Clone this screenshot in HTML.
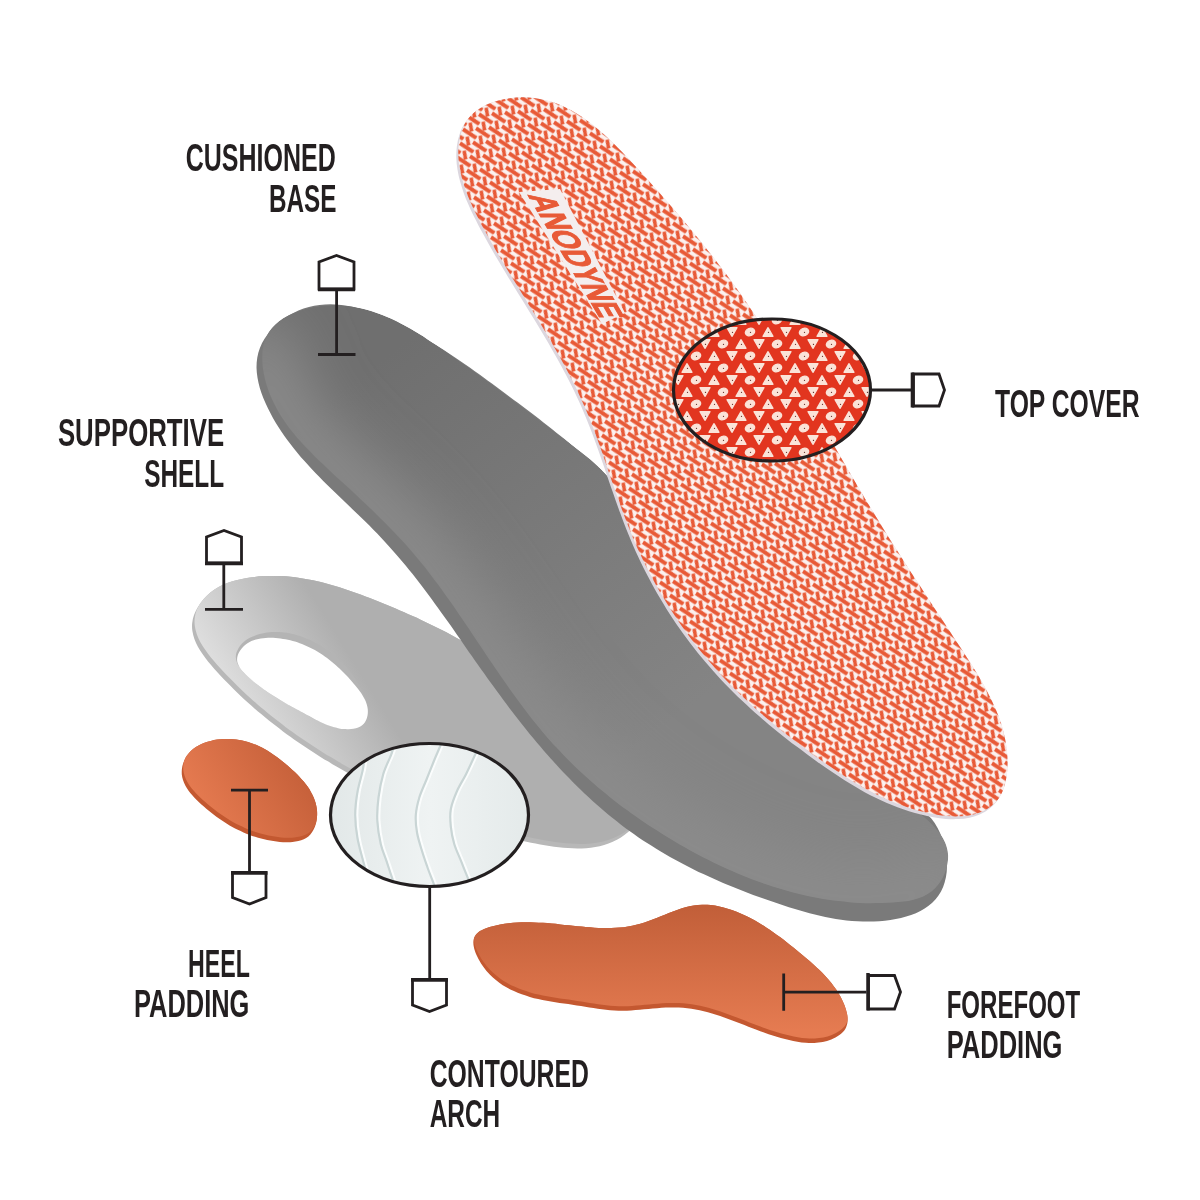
<!DOCTYPE html>
<html><head><meta charset="utf-8">
<style>
html,body{margin:0;padding:0;background:#fff;width:1200px;height:1200px;overflow:hidden}
svg{display:block;will-change:transform}
.lb{font-family:"Liberation Sans",sans-serif;font-weight:bold;font-size:39px;fill:#231f20}
</style></head>
<body>
<svg width="1200" height="1200" viewBox="0 0 1200 1200">
<defs>
  <path id="pTop" d="M516.2,97.6 C520.3,97.3 524.3,97.3 528.3,97.5 C532.2,97.7 536.0,98.2 539.8,98.9 C543.5,99.6 547.2,100.5 550.8,101.6 C554.4,102.7 557.9,104.1 561.4,105.6 C564.9,107.1 568.3,108.8 571.6,110.6 C574.9,112.5 578.2,114.5 581.4,116.6 C584.7,118.8 587.8,121.1 590.9,123.5 C594.1,125.9 597.1,128.4 600.1,131.0 C603.2,133.6 606.1,136.4 609.1,139.1 C612.0,141.9 614.9,144.8 617.8,147.7 C620.7,150.6 623.5,153.5 626.3,156.5 C629.1,159.5 631.9,162.5 634.7,165.5 C637.4,168.5 640.2,171.5 642.9,174.6 C645.6,177.6 648.3,180.6 651.0,183.6 C653.7,186.6 656.4,189.6 659.1,192.6 C661.7,195.6 664.4,198.6 667.0,201.6 C669.6,204.6 672.2,207.6 674.8,210.6 C677.4,213.6 680.0,216.6 682.5,219.6 C685.1,222.6 687.6,225.6 690.1,228.7 C692.7,231.7 695.2,234.7 697.6,237.7 C700.1,240.8 702.6,243.8 705.0,246.9 C707.5,249.9 709.9,253.0 712.3,256.1 C714.7,259.2 717.1,262.3 719.5,265.4 C721.9,268.5 724.2,271.6 726.6,274.8 C728.9,277.9 731.2,281.1 733.5,284.3 C735.8,287.4 738.1,290.6 740.4,293.8 C742.6,297.1 744.9,300.3 747.1,303.5 C749.3,306.8 751.5,310.1 753.7,313.3 C755.9,316.6 758.1,319.9 760.3,323.2 C762.4,326.5 764.6,329.9 766.7,333.2 C768.9,336.5 771.0,339.9 773.1,343.2 C775.2,346.6 777.3,350.0 779.4,353.3 C781.5,356.7 783.6,360.1 785.7,363.5 C787.8,366.9 789.8,370.3 791.9,373.7 C793.9,377.1 796.0,380.5 798.0,384.0 C800.1,387.4 802.1,390.8 804.1,394.3 C806.2,397.7 808.2,401.1 810.2,404.6 C812.2,408.0 814.2,411.5 816.2,414.9 C818.2,418.4 820.2,421.8 822.2,425.3 C824.2,428.7 826.2,432.2 828.2,435.6 C830.2,439.1 832.2,442.5 834.2,446.0 C836.2,449.4 838.2,452.8 840.2,456.3 C842.2,459.7 844.2,463.2 846.2,466.6 C848.2,470.0 850.2,473.5 852.2,476.9 C854.2,480.3 856.2,483.7 858.3,487.2 C860.3,490.6 862.3,494.0 864.3,497.4 C866.3,500.8 868.4,504.2 870.4,507.5 C872.4,510.9 874.5,514.3 876.5,517.6 C878.6,521.0 880.6,524.3 882.7,527.7 C884.8,531.0 886.8,534.3 888.9,537.7 C891.0,541.0 893.1,544.3 895.2,547.6 C897.3,550.9 899.4,554.2 901.5,557.5 C903.6,560.8 905.7,564.1 907.9,567.4 C910.0,570.7 912.1,574.0 914.3,577.3 C916.4,580.5 918.5,583.8 920.7,587.1 C922.8,590.4 925.0,593.7 927.2,597.0 C929.3,600.3 931.5,603.6 933.7,606.9 C935.9,610.2 938.0,613.5 940.2,616.8 C942.4,620.2 944.6,623.5 946.8,626.8 C949.0,630.2 951.2,633.5 953.4,636.9 C955.6,640.2 957.9,643.6 960.1,647.0 C962.3,650.4 964.5,653.8 966.7,657.2 C968.9,660.6 971.1,664.0 973.3,667.5 C975.4,670.9 977.6,674.4 979.6,677.9 C981.7,681.4 983.7,684.9 985.6,688.4 C987.5,692.0 989.4,695.6 991.1,699.2 C992.9,702.8 994.5,706.4 996.0,710.0 C997.6,713.7 999.0,717.4 1000.3,721.1 C1001.5,724.8 1002.7,728.6 1003.6,732.4 C1004.6,736.2 1005.4,740.0 1006.0,743.9 C1006.6,747.8 1007.1,751.7 1007.3,755.7 C1007.6,759.6 1007.6,763.7 1007.4,767.7 C1007.2,771.6 1006.8,775.7 1006.0,779.5 C1005.3,783.4 1004.2,787.2 1002.8,790.7 C1001.4,794.2 999.6,797.6 997.4,800.5 C995.2,803.5 992.5,806.2 989.7,808.5 C986.8,810.8 983.6,812.7 980.2,814.2 C976.9,815.7 973.2,816.8 969.5,817.7 C965.8,818.5 961.9,818.9 957.9,819.1 C954.0,819.3 949.9,819.2 945.8,818.9 C941.7,818.6 937.5,818.0 933.4,817.3 C929.2,816.6 925.0,815.6 921.0,814.6 C916.9,813.6 912.9,812.5 909.0,811.3 C905.1,810.0 901.2,808.7 897.5,807.3 C893.7,805.9 890.0,804.4 886.3,802.8 C882.7,801.2 879.1,799.6 875.6,797.8 C872.1,796.1 868.6,794.3 865.1,792.4 C861.7,790.5 858.3,788.6 855.0,786.6 C851.6,784.6 848.3,782.6 845.0,780.5 C841.7,778.4 838.4,776.3 835.2,774.1 C831.9,771.9 828.7,769.7 825.5,767.5 C822.3,765.3 819.0,763.0 815.8,760.7 C812.6,758.4 809.4,756.1 806.3,753.7 C803.1,751.4 799.9,749.0 796.7,746.6 C793.6,744.3 790.4,741.8 787.3,739.4 C784.1,736.9 781.0,734.5 777.9,732.0 C774.8,729.5 771.8,726.9 768.7,724.4 C765.6,721.8 762.6,719.2 759.6,716.6 C756.6,714.0 753.6,711.4 750.7,708.7 C747.7,706.0 744.8,703.3 741.9,700.6 C739.0,697.8 736.1,695.0 733.3,692.2 C730.5,689.4 727.7,686.6 724.9,683.7 C722.2,680.9 719.5,678.0 716.8,675.0 C714.1,672.1 711.5,669.1 708.9,666.1 C706.3,663.1 703.7,660.1 701.2,657.0 C698.7,654.0 696.2,650.9 693.8,647.8 C691.3,644.6 688.9,641.5 686.6,638.3 C684.2,635.1 681.9,631.9 679.7,628.7 C677.4,625.4 675.2,622.2 673.0,618.9 C670.8,615.6 668.6,612.3 666.5,608.9 C664.4,605.6 662.4,602.2 660.4,598.8 C658.3,595.4 656.4,592.0 654.4,588.5 C652.5,585.1 650.6,581.6 648.8,578.1 C646.9,574.6 645.1,571.1 643.3,567.5 C641.6,564.0 639.9,560.4 638.2,556.8 C636.5,553.2 634.9,549.6 633.3,546.0 C631.7,542.3 630.2,538.7 628.7,535.0 C627.1,531.3 625.7,527.7 624.3,523.9 C622.8,520.2 621.4,516.5 620.1,512.8 C618.7,509.1 617.4,505.3 616.0,501.6 C614.7,497.8 613.4,494.0 612.1,490.3 C610.8,486.5 609.5,482.8 608.2,479.0 C606.9,475.2 605.7,471.5 604.4,467.7 C603.1,463.9 601.8,460.2 600.5,456.4 C599.2,452.7 597.8,448.9 596.5,445.2 C595.1,441.4 593.8,437.7 592.4,434.0 C591.0,430.3 589.6,426.6 588.1,422.9 C586.6,419.2 585.2,415.6 583.6,411.9 C582.1,408.3 580.5,404.7 578.8,401.1 C577.2,397.5 575.5,393.9 573.8,390.3 C572.1,386.8 570.3,383.2 568.5,379.7 C566.7,376.2 564.9,372.7 563.0,369.2 C561.1,365.7 559.2,362.3 557.3,358.8 C555.4,355.4 553.4,351.9 551.4,348.5 C549.5,345.0 547.5,341.6 545.5,338.2 C543.4,334.8 541.4,331.4 539.4,328.0 C537.3,324.6 535.2,321.2 533.2,317.8 C531.1,314.4 529.0,311.0 527.0,307.7 C524.9,304.3 522.8,300.9 520.7,297.5 C518.6,294.1 516.5,290.8 514.5,287.4 C512.4,284.0 510.3,280.6 508.2,277.2 C506.2,273.8 504.1,270.4 502.1,267.0 C500.0,263.6 498.0,260.2 496.0,256.8 C494.0,253.4 492.0,249.9 490.1,246.5 C488.1,243.1 486.2,239.6 484.3,236.1 C482.4,232.7 480.5,229.2 478.6,225.7 C476.8,222.2 475.0,218.7 473.2,215.1 C471.5,211.6 469.8,208.0 468.3,204.3 C466.7,200.7 465.2,197.0 463.8,193.2 C462.5,189.4 461.2,185.5 460.1,181.6 C459.1,177.7 458.1,173.7 457.5,169.8 C456.8,165.8 456.4,161.7 456.3,157.8 C456.2,153.8 456.4,149.7 456.9,145.9 C457.4,142.0 458.3,138.1 459.5,134.5 C460.7,130.9 462.3,127.3 464.2,124.1 C466.2,120.9 468.5,117.8 471.2,115.2 C473.9,112.5 477.1,110.1 480.5,108.0 C483.9,105.9 487.7,104.2 491.6,102.8 C495.5,101.3 499.7,100.2 503.8,99.3 C507.9,98.5 512.2,97.9 516.2,97.6 Z"/>
  <path id="pBase" d="M330.4,304.3 C334.0,304.3 337.5,304.5 341.1,304.9 C344.6,305.2 348.1,305.8 351.5,306.5 C355.0,307.2 358.4,308.0 361.9,309.0 C365.3,310.0 368.7,311.1 372.0,312.3 C375.4,313.5 378.7,314.9 382.0,316.3 C385.3,317.7 388.6,319.2 391.9,320.7 C395.1,322.3 398.3,323.9 401.5,325.5 C404.7,327.2 407.9,328.9 411.1,330.6 C414.2,332.3 417.4,334.1 420.5,335.9 C423.6,337.7 426.7,339.5 429.7,341.3 C432.8,343.2 435.8,345.1 438.9,347.0 C441.9,348.9 444.9,350.8 447.9,352.8 C450.9,354.7 453.9,356.7 456.9,358.7 C459.8,360.7 462.8,362.8 465.7,364.8 C468.7,366.8 471.6,368.9 474.5,371.0 C477.4,373.0 480.3,375.1 483.3,377.2 C486.2,379.3 489.0,381.4 491.9,383.6 C494.8,385.7 497.7,387.8 500.6,390.0 C503.5,392.1 506.4,394.2 509.2,396.4 C512.1,398.5 515.0,400.7 517.8,402.8 C520.7,405.0 523.6,407.1 526.4,409.3 C529.3,411.5 532.2,413.6 535.0,415.8 C537.8,418.0 540.7,420.2 543.5,422.4 C546.3,424.6 549.1,426.8 551.9,429.0 C554.7,431.3 557.5,433.5 560.3,435.8 C563.1,438.0 565.8,440.3 568.6,442.6 C571.3,444.9 574.0,447.2 576.7,449.5 C579.4,451.9 582.1,454.2 584.8,456.6 C587.4,459.0 590.0,461.4 592.7,463.8 C595.3,466.2 597.9,468.7 600.4,471.1 C603.0,473.6 605.5,476.1 608.0,478.7 C610.5,481.2 613.0,483.8 615.4,486.3 C617.9,488.9 620.3,491.5 622.7,494.2 C625.1,496.8 627.4,499.5 629.8,502.2 C632.2,504.9 634.5,507.6 636.8,510.3 C639.1,513.0 641.4,515.8 643.7,518.5 C645.9,521.3 648.2,524.1 650.4,526.9 C652.7,529.7 654.9,532.5 657.1,535.3 C659.3,538.1 661.5,541.0 663.7,543.8 C665.9,546.7 668.1,549.5 670.2,552.4 C672.4,555.3 674.5,558.2 676.7,561.0 C678.8,563.9 681.0,566.8 683.1,569.7 C685.3,572.6 687.4,575.5 689.5,578.4 C691.7,581.3 693.8,584.3 695.9,587.2 C698.0,590.1 700.2,593.0 702.3,595.9 C704.4,598.8 706.6,601.7 708.7,604.6 C710.8,607.6 713.0,610.5 715.1,613.4 C717.3,616.3 719.4,619.1 721.6,622.0 C723.7,624.9 725.9,627.8 728.1,630.7 C730.2,633.5 732.4,636.4 734.6,639.2 C736.8,642.1 739.0,644.9 741.3,647.7 C743.5,650.6 745.7,653.4 748.0,656.2 C750.3,659.0 752.5,661.7 754.8,664.5 C757.1,667.3 759.4,670.0 761.8,672.7 C764.1,675.4 766.4,678.1 768.8,680.8 C771.2,683.5 773.6,686.1 776.0,688.8 C778.4,691.4 780.9,694.0 783.4,696.6 C785.8,699.2 788.4,701.7 790.9,704.2 C793.4,706.8 796.0,709.3 798.6,711.7 C801.2,714.2 803.8,716.6 806.5,719.0 C809.1,721.4 811.8,723.8 814.5,726.2 C817.2,728.5 819.9,730.8 822.7,733.2 C825.4,735.5 828.2,737.7 831.0,740.0 C833.8,742.3 836.6,744.5 839.4,746.7 C842.2,749.0 845.1,751.2 847.9,753.4 C850.7,755.6 853.6,757.7 856.4,759.9 C859.3,762.1 862.2,764.2 865.0,766.4 C867.9,768.5 870.8,770.7 873.6,772.8 C876.5,774.9 879.3,777.1 882.2,779.2 C885.1,781.3 887.9,783.4 890.8,785.6 C893.6,787.7 896.4,789.8 899.3,791.9 C902.1,794.0 904.9,796.2 907.7,798.3 C910.5,800.4 913.3,802.5 916.0,804.7 C918.8,806.9 921.6,809.0 924.1,811.3 C926.7,813.7 929.2,816.1 931.5,818.8 C933.7,821.6 935.8,824.6 937.6,827.9 C939.3,831.1 940.9,834.6 942.2,838.2 C943.5,841.8 944.5,845.6 945.3,849.3 C946.1,853.1 946.6,856.9 946.8,860.7 C947.0,864.5 947.0,868.3 946.7,871.9 C946.3,875.5 945.7,879.0 944.7,882.3 C943.8,885.6 942.6,888.7 941.0,891.5 C939.5,894.4 937.6,897.0 935.6,899.3 C933.5,901.7 931.1,903.9 928.6,905.8 C926.1,907.7 923.3,909.5 920.4,911.0 C917.5,912.6 914.3,913.9 911.1,915.1 C907.9,916.2 904.5,917.2 901.0,918.1 C897.6,918.9 894.0,919.6 890.4,920.1 C886.8,920.6 883.1,921.0 879.4,921.3 C875.7,921.5 872.0,921.6 868.3,921.6 C864.7,921.6 861.0,921.5 857.4,921.3 C853.7,921.1 850.1,920.8 846.5,920.4 C842.9,920.0 839.4,919.5 835.8,918.9 C832.3,918.3 828.8,917.7 825.3,916.9 C821.7,916.2 818.3,915.4 814.8,914.5 C811.3,913.7 807.8,912.8 804.4,911.8 C800.9,910.8 797.5,909.8 794.1,908.8 C790.6,907.7 787.2,906.6 783.8,905.5 C780.4,904.4 777.0,903.3 773.6,902.1 C770.1,901.0 766.7,899.8 763.4,898.6 C760.0,897.4 756.6,896.1 753.2,894.9 C749.8,893.6 746.4,892.4 743.1,891.1 C739.7,889.7 736.4,888.4 733.1,887.1 C729.7,885.7 726.4,884.3 723.1,882.9 C719.8,881.5 716.5,880.1 713.2,878.6 C709.9,877.1 706.7,875.6 703.4,874.1 C700.2,872.6 696.9,871.0 693.7,869.4 C690.5,867.8 687.3,866.2 684.1,864.6 C681.0,862.9 677.8,861.2 674.7,859.5 C671.6,857.8 668.4,856.0 665.4,854.2 C662.3,852.5 659.2,850.6 656.2,848.8 C653.1,846.9 650.1,845.0 647.1,843.1 C644.1,841.2 641.2,839.2 638.2,837.2 C635.3,835.2 632.4,833.1 629.5,831.1 C626.7,829.0 623.8,826.8 621.0,824.7 C618.2,822.5 615.4,820.3 612.6,818.1 C609.8,815.9 607.1,813.6 604.4,811.3 C601.7,809.0 599.0,806.7 596.3,804.3 C593.7,802.0 591.0,799.6 588.4,797.1 C585.8,794.7 583.2,792.3 580.7,789.8 C578.1,787.3 575.5,784.8 573.0,782.3 C570.5,779.7 568.0,777.2 565.5,774.6 C563.1,772.0 560.6,769.4 558.2,766.7 C555.7,764.1 553.3,761.5 550.9,758.8 C548.6,756.1 546.2,753.4 543.8,750.7 C541.5,748.0 539.2,745.2 536.8,742.5 C534.5,739.7 532.2,736.9 529.9,734.2 C527.7,731.4 525.4,728.6 523.2,725.7 C520.9,722.9 518.7,720.1 516.5,717.2 C514.3,714.4 512.1,711.5 509.9,708.7 C507.7,705.8 505.5,702.9 503.4,700.0 C501.2,697.1 499.1,694.2 497.0,691.3 C494.8,688.4 492.7,685.5 490.6,682.6 C488.5,679.7 486.4,676.8 484.4,673.8 C482.3,670.9 480.2,668.0 478.1,665.0 C476.1,662.1 474.0,659.2 472.0,656.2 C469.9,653.3 467.9,650.3 465.8,647.4 C463.8,644.5 461.7,641.5 459.7,638.6 C457.7,635.7 455.6,632.7 453.6,629.8 C451.5,626.9 449.5,624.0 447.4,621.1 C445.3,618.2 443.3,615.3 441.2,612.4 C439.1,609.5 437.0,606.6 434.9,603.7 C432.8,600.8 430.7,597.9 428.6,595.1 C426.5,592.2 424.3,589.4 422.2,586.6 C420.0,583.7 417.9,580.9 415.7,578.1 C413.5,575.3 411.3,572.5 409.0,569.8 C406.8,567.0 404.5,564.2 402.2,561.5 C400.0,558.8 397.6,556.1 395.3,553.4 C393.0,550.7 390.6,548.0 388.2,545.4 C385.8,542.7 383.4,540.1 380.9,537.5 C378.5,534.9 376.0,532.3 373.4,529.8 C370.9,527.2 368.4,524.7 365.8,522.1 C363.2,519.6 360.6,517.1 358.0,514.6 C355.4,512.1 352.8,509.6 350.2,507.1 C347.6,504.6 345.0,502.1 342.4,499.6 C339.8,497.1 337.2,494.6 334.6,492.1 C332.0,489.6 329.4,487.0 326.8,484.5 C324.3,482.0 321.7,479.4 319.2,476.8 C316.7,474.3 314.2,471.7 311.7,469.0 C309.3,466.4 306.9,463.8 304.5,461.1 C302.1,458.4 299.8,455.7 297.5,452.9 C295.2,450.2 292.9,447.4 290.8,444.6 C288.6,441.7 286.4,438.8 284.4,435.9 C282.3,433.0 280.3,430.0 278.4,427.0 C276.5,423.9 274.6,420.9 272.8,417.7 C271.1,414.6 269.3,411.3 267.8,408.1 C266.2,404.8 264.7,401.5 263.3,398.1 C262.0,394.8 260.8,391.4 259.8,388.0 C258.9,384.6 258.0,381.2 257.5,377.8 C256.9,374.4 256.6,371.0 256.5,367.6 C256.5,364.3 256.7,360.9 257.3,357.6 C257.8,354.3 258.7,351.1 259.9,347.9 C261.2,344.7 262.8,341.6 264.7,338.6 C266.5,335.6 268.8,332.6 271.2,329.9 C273.7,327.2 276.4,324.5 279.3,322.1 C282.2,319.8 285.3,317.5 288.5,315.6 C291.7,313.7 295.0,312.0 298.4,310.5 C301.8,309.1 305.4,307.9 308.9,307.0 C312.4,306.1 316.0,305.5 319.6,305.0 C323.2,304.6 326.8,304.4 330.4,304.3 Z"/>
  <path id="pBaseTop" d="M330.2,305.2 C333.8,305.0 337.5,305.1 341.0,305.3 C344.6,305.5 348.1,305.9 351.6,306.4 C355.1,306.9 358.5,307.6 361.9,308.4 C365.3,309.2 368.7,310.1 372.0,311.2 C375.3,312.2 378.6,313.4 381.8,314.7 C385.1,316.0 388.3,317.4 391.5,318.8 C394.7,320.3 397.8,321.9 400.9,323.5 C404.1,325.1 407.2,326.9 410.2,328.6 C413.3,330.4 416.3,332.2 419.4,334.1 C422.4,336.0 425.4,337.9 428.4,339.9 C431.4,341.8 434.3,343.8 437.3,345.8 C440.2,347.8 443.2,349.8 446.1,351.8 C449.0,353.8 451.9,355.8 454.8,357.9 C457.7,359.9 460.6,361.9 463.5,364.0 C466.4,366.0 469.2,368.1 472.1,370.1 C475.0,372.2 477.8,374.3 480.6,376.3 C483.5,378.4 486.3,380.5 489.1,382.6 C492.0,384.6 494.8,386.7 497.6,388.8 C500.4,390.9 503.2,393.0 506.0,395.1 C508.8,397.2 511.6,399.3 514.4,401.4 C517.2,403.5 520.0,405.6 522.8,407.7 C525.6,409.9 528.4,412.0 531.2,414.1 C534.0,416.2 536.8,418.3 539.6,420.4 C542.4,422.6 545.2,424.7 548.0,426.8 C550.8,428.9 553.6,431.0 556.4,433.2 C559.2,435.3 562.1,437.4 564.9,439.5 C567.7,441.6 570.5,443.8 573.3,445.9 C576.1,448.1 578.9,450.2 581.7,452.4 C584.4,454.6 587.2,456.8 589.9,459.1 C592.5,461.4 595.2,463.7 597.7,466.1 C600.3,468.6 602.8,471.0 605.2,473.6 C607.7,476.2 610.0,478.8 612.3,481.5 C614.7,484.1 616.9,486.9 619.1,489.7 C621.4,492.4 623.5,495.3 625.7,498.1 C627.8,501.0 629.9,503.9 632.0,506.8 C634.1,509.7 636.2,512.6 638.3,515.5 C640.3,518.5 642.4,521.4 644.4,524.3 C646.5,527.3 648.6,530.2 650.6,533.1 C652.7,536.0 654.8,538.9 656.9,541.8 C658.9,544.7 661.0,547.5 663.1,550.4 C665.3,553.2 667.4,556.1 669.5,558.9 C671.6,561.7 673.8,564.5 675.9,567.3 C678.0,570.1 680.2,572.9 682.4,575.7 C684.5,578.5 686.7,581.2 688.9,584.0 C691.1,586.7 693.3,589.4 695.5,592.2 C697.7,594.9 699.9,597.6 702.1,600.3 C704.3,603.0 706.6,605.7 708.8,608.3 C711.1,611.0 713.3,613.7 715.6,616.3 C717.8,619.0 720.1,621.6 722.4,624.2 C724.7,626.9 727.0,629.5 729.3,632.1 C731.6,634.7 733.9,637.3 736.2,639.9 C738.5,642.5 740.9,645.0 743.2,647.6 C745.5,650.2 747.9,652.7 750.3,655.3 C752.6,657.8 755.0,660.4 757.4,662.9 C759.7,665.4 762.1,667.9 764.5,670.4 C766.9,673.0 769.4,675.5 771.8,678.0 C774.2,680.5 776.6,682.9 779.1,685.4 C781.5,687.9 784.0,690.4 786.4,692.8 C788.9,695.3 791.3,697.7 793.8,700.2 C796.3,702.6 798.8,705.1 801.3,707.5 C803.8,710.0 806.3,712.4 808.8,714.8 C811.4,717.2 813.9,719.7 816.4,722.1 C819.0,724.5 821.5,726.9 824.1,729.3 C826.6,731.7 829.2,734.1 831.8,736.5 C834.4,738.8 837.0,741.2 839.6,743.6 C842.2,746.0 844.8,748.4 847.4,750.7 C850.0,753.1 852.7,755.5 855.3,757.8 C858.0,760.2 860.6,762.5 863.3,764.9 C865.9,767.2 868.6,769.6 871.3,771.9 C874.0,774.3 876.7,776.6 879.4,779.0 C882.1,781.3 884.8,783.6 887.5,786.0 C890.2,788.3 893.0,790.6 895.7,793.0 C898.5,795.3 901.2,797.6 904.0,799.9 C906.7,802.3 909.5,804.6 912.3,806.9 C915.1,809.2 917.9,811.5 920.6,813.9 C923.4,816.2 926.1,818.6 928.6,821.0 C931.2,823.4 933.7,825.9 935.8,828.4 C938.0,830.9 940.1,833.5 941.8,836.2 C943.5,839.0 945.0,841.7 946.0,844.7 C947.0,847.6 947.8,850.7 948.0,853.9 C948.3,857.1 948.1,860.6 947.4,864.0 C946.8,867.4 945.7,871.0 944.3,874.3 C942.9,877.6 941.0,881.0 938.9,883.8 C936.8,886.6 934.4,889.1 931.8,891.2 C929.1,893.3 926.2,895.0 923.2,896.4 C920.1,897.8 916.8,898.8 913.5,899.7 C910.1,900.6 906.6,901.2 903.1,901.6 C899.6,902.1 895.9,902.4 892.3,902.6 C888.7,902.9 885.1,903.0 881.5,903.1 C878.0,903.2 874.4,903.2 870.8,903.2 C867.2,903.1 863.7,903.0 860.1,902.9 C856.6,902.7 853.0,902.5 849.5,902.2 C846.0,901.9 842.4,901.5 838.9,901.1 C835.4,900.7 831.9,900.2 828.4,899.7 C824.9,899.2 821.4,898.6 818.0,898.0 C814.5,897.3 811.0,896.6 807.6,895.9 C804.1,895.1 800.7,894.3 797.3,893.5 C793.9,892.7 790.5,891.8 787.1,890.8 C783.7,889.9 780.3,888.9 776.9,887.8 C773.5,886.8 770.2,885.7 766.8,884.6 C763.5,883.4 760.1,882.3 756.8,881.0 C753.5,879.8 750.2,878.6 746.9,877.3 C743.6,876.0 740.3,874.6 737.1,873.2 C733.8,871.8 730.6,870.4 727.4,869.0 C724.1,867.5 720.9,866.0 717.7,864.5 C714.5,863.0 711.3,861.4 708.2,859.8 C705.0,858.2 701.8,856.6 698.7,855.0 C695.6,853.3 692.5,851.6 689.4,849.9 C686.3,848.2 683.2,846.4 680.1,844.7 C677.1,842.9 674.0,841.1 671.0,839.3 C668.0,837.5 664.9,835.6 662.0,833.8 C659.0,831.9 656.0,830.0 653.0,828.1 C650.1,826.2 647.1,824.2 644.2,822.3 C641.3,820.3 638.4,818.3 635.6,816.3 C632.7,814.3 629.8,812.2 627.0,810.1 C624.2,808.1 621.4,806.0 618.6,803.9 C615.8,801.7 613.0,799.6 610.3,797.4 C607.6,795.2 604.9,793.0 602.2,790.8 C599.5,788.6 596.8,786.3 594.2,784.0 C591.5,781.7 588.9,779.4 586.3,777.1 C583.7,774.7 581.2,772.4 578.6,770.0 C576.1,767.6 573.6,765.1 571.1,762.7 C568.6,760.2 566.1,757.8 563.7,755.2 C561.3,752.7 558.9,750.2 556.5,747.6 C554.1,745.1 551.8,742.5 549.5,739.9 C547.1,737.2 544.8,734.6 542.6,731.9 C540.3,729.2 538.1,726.5 535.9,723.8 C533.7,721.0 531.5,718.3 529.3,715.5 C527.2,712.7 525.0,709.9 522.9,707.1 C520.8,704.3 518.7,701.5 516.6,698.6 C514.5,695.8 512.5,692.9 510.4,690.0 C508.4,687.1 506.3,684.2 504.3,681.3 C502.3,678.4 500.3,675.5 498.3,672.5 C496.3,669.6 494.3,666.7 492.3,663.7 C490.3,660.8 488.3,657.8 486.3,654.9 C484.4,651.9 482.4,649.0 480.4,646.0 C478.4,643.1 476.5,640.1 474.5,637.2 C472.5,634.2 470.5,631.3 468.6,628.3 C466.6,625.4 464.6,622.4 462.6,619.5 C460.6,616.6 458.6,613.6 456.6,610.7 C454.6,607.8 452.6,604.9 450.6,602.0 C448.5,599.1 446.5,596.2 444.4,593.4 C442.4,590.5 440.3,587.7 438.2,584.8 C436.1,582.0 434.0,579.2 431.9,576.4 C429.8,573.6 427.6,570.9 425.5,568.1 C423.3,565.4 421.1,562.7 418.9,560.0 C416.7,557.3 414.4,554.6 412.2,552.0 C409.9,549.3 407.6,546.7 405.3,544.1 C403.0,541.6 400.6,539.0 398.2,536.5 C395.9,533.9 393.5,531.4 391.0,528.9 C388.6,526.4 386.2,524.0 383.7,521.5 C381.3,519.1 378.8,516.6 376.3,514.2 C373.8,511.7 371.3,509.3 368.8,506.9 C366.2,504.5 363.7,502.1 361.1,499.7 C358.6,497.3 356.0,494.9 353.5,492.5 C350.9,490.1 348.3,487.7 345.7,485.3 C343.1,483.0 340.5,480.6 337.9,478.2 C335.3,475.8 332.7,473.3 330.1,470.9 C327.5,468.5 324.9,466.1 322.3,463.6 C319.7,461.2 317.1,458.7 314.6,456.2 C312.1,453.7 309.6,451.2 307.1,448.6 C304.7,446.0 302.3,443.4 299.9,440.8 C297.6,438.2 295.3,435.5 293.1,432.7 C290.9,430.0 288.7,427.2 286.7,424.4 C284.6,421.5 282.7,418.6 280.8,415.7 C279.0,412.7 277.2,409.6 275.6,406.5 C273.9,403.4 272.4,400.2 271.0,397.0 C269.6,393.7 268.4,390.4 267.2,386.9 C266.1,383.5 265.1,379.9 264.4,376.4 C263.6,372.9 263.0,369.3 262.6,365.7 C262.3,362.2 262.1,358.6 262.3,355.2 C262.4,351.8 262.8,348.4 263.5,345.2 C264.3,342.0 265.3,338.9 266.7,336.1 C268.1,333.2 269.8,330.5 271.9,328.1 C274.0,325.6 276.4,323.4 279.0,321.3 C281.6,319.3 284.6,317.4 287.7,315.8 C290.7,314.1 294.1,312.7 297.5,311.4 C300.9,310.2 304.5,309.1 308.1,308.2 C311.7,307.3 315.4,306.7 319.1,306.2 C322.8,305.7 326.5,305.3 330.2,305.2 Z"/>
  <path id="pShell" d="M245.4,578.2 C248.5,577.7 251.6,577.2 254.6,576.9 C257.7,576.5 260.7,576.3 263.7,576.1 C266.8,575.9 269.8,575.9 272.8,575.9 C275.8,575.9 278.8,576.0 281.8,576.1 C284.8,576.3 287.8,576.5 290.8,576.8 C293.8,577.1 296.8,577.5 299.8,577.9 C302.7,578.4 305.7,578.9 308.6,579.5 C311.6,580.0 314.6,580.6 317.5,581.3 C320.4,582.0 323.4,582.7 326.3,583.5 C329.2,584.3 332.2,585.1 335.1,586.0 C338.0,586.9 340.9,587.8 343.8,588.7 C346.7,589.7 349.6,590.7 352.5,591.7 C355.4,592.7 358.3,593.8 361.2,594.8 C364.1,595.9 367.0,597.0 369.8,598.1 C372.7,599.3 375.6,600.4 378.5,601.6 C381.3,602.7 384.2,603.9 387.1,605.1 C389.9,606.2 392.8,607.4 395.6,608.6 C398.5,609.9 401.3,611.1 404.2,612.3 C407.0,613.6 409.8,614.8 412.6,616.1 C415.5,617.3 418.3,618.6 421.1,619.9 C423.9,621.2 426.7,622.6 429.4,623.9 C432.2,625.2 435.0,626.6 437.7,628.0 C440.5,629.3 443.2,630.7 445.9,632.1 C448.6,633.5 451.3,635.0 454.0,636.4 C456.7,637.9 459.4,639.3 462.0,640.8 C464.7,642.3 467.3,643.8 469.9,645.4 C472.5,646.9 475.1,648.4 477.7,650.0 C480.3,651.6 482.8,653.2 485.3,654.8 C487.9,656.4 490.4,658.1 492.9,659.7 C495.3,661.4 497.8,663.1 500.2,664.8 C502.6,666.5 505.0,668.3 507.4,670.0 C509.8,671.8 512.1,673.6 514.5,675.4 C516.8,677.2 519.1,679.1 521.3,680.9 C523.6,682.8 525.8,684.7 528.0,686.6 C530.2,688.5 532.4,690.5 534.5,692.5 C536.6,694.5 538.7,696.5 540.8,698.5 C542.9,700.5 545.0,702.6 547.1,704.7 C549.1,706.8 551.2,708.9 553.3,711.0 C555.3,713.2 557.4,715.3 559.5,717.5 C561.5,719.7 563.6,721.9 565.7,724.2 C567.9,726.4 570.0,728.7 572.1,731.0 C574.3,733.3 576.5,735.6 578.7,738.0 C581.0,740.3 583.2,742.7 585.6,745.1 C587.9,747.5 590.3,749.9 592.7,752.3 C595.1,754.8 597.6,757.2 600.2,759.7 C602.7,762.2 605.4,764.7 608.0,767.3 C610.6,769.8 613.3,772.3 615.8,774.9 C618.3,777.4 620.9,780.0 623.2,782.5 C625.5,785.1 627.7,787.6 629.7,790.2 C631.6,792.7 633.4,795.2 634.8,797.7 C636.2,800.2 637.4,802.7 638.2,805.2 C638.9,807.6 639.4,810.1 639.3,812.4 C639.3,814.8 638.8,817.2 637.9,819.4 C637.0,821.7 635.6,824.0 634.0,826.1 C632.4,828.2 630.3,830.2 628.2,832.1 C626.0,834.0 623.5,835.8 620.9,837.4 C618.4,839.0 615.6,840.5 612.8,841.7 C610.0,843.0 607.0,844.0 604.1,844.9 C601.2,845.8 598.3,846.5 595.3,847.0 C592.3,847.6 589.3,847.9 586.3,848.2 C583.3,848.4 580.2,848.5 577.2,848.5 C574.1,848.4 571.0,848.3 567.9,848.1 C564.8,847.9 561.7,847.5 558.7,847.2 C555.6,846.8 552.5,846.4 549.4,845.9 C546.3,845.4 543.2,844.9 540.2,844.4 C537.1,843.8 534.0,843.2 531.0,842.7 C528.0,842.1 524.9,841.4 521.9,840.8 C518.9,840.1 515.9,839.4 512.8,838.7 C509.8,838.0 506.8,837.3 503.9,836.5 C500.9,835.8 497.9,835.0 494.9,834.2 C492.0,833.4 489.0,832.6 486.1,831.7 C483.1,830.8 480.2,830.0 477.3,829.1 C474.3,828.1 471.4,827.2 468.5,826.3 C465.6,825.3 462.7,824.3 459.8,823.3 C456.9,822.4 454.0,821.3 451.2,820.3 C448.3,819.3 445.4,818.2 442.6,817.1 C439.7,816.0 436.9,814.9 434.1,813.8 C431.2,812.7 428.4,811.6 425.6,810.4 C422.8,809.3 420.0,808.1 417.2,806.9 C414.4,805.7 411.6,804.5 408.8,803.3 C406.1,802.0 403.3,800.8 400.5,799.5 C397.8,798.3 395.0,797.0 392.3,795.7 C389.5,794.4 386.8,793.1 384.1,791.8 C381.3,790.4 378.6,789.1 375.9,787.7 C373.2,786.4 370.5,785.0 367.8,783.6 C365.1,782.3 362.5,780.9 359.8,779.4 C357.1,778.0 354.5,776.6 351.8,775.2 C349.2,773.7 346.5,772.2 343.9,770.8 C341.3,769.3 338.7,767.8 336.0,766.3 C333.4,764.7 330.8,763.2 328.3,761.6 C325.7,760.1 323.1,758.5 320.5,756.9 C318.0,755.3 315.4,753.7 312.9,752.1 C310.3,750.4 307.8,748.8 305.3,747.1 C302.8,745.4 300.3,743.7 297.8,742.0 C295.3,740.3 292.8,738.5 290.4,736.7 C287.9,735.0 285.5,733.2 283.0,731.4 C280.6,729.6 278.2,727.7 275.8,725.8 C273.3,724.0 271.0,722.1 268.6,720.2 C266.2,718.3 263.8,716.3 261.5,714.3 C259.1,712.4 256.8,710.4 254.5,708.4 C252.1,706.3 249.8,704.3 247.5,702.2 C245.3,700.1 243.0,698.0 240.7,695.9 C238.5,693.8 236.2,691.6 234.0,689.4 C231.8,687.2 229.5,685.0 227.4,682.8 C225.2,680.5 223.0,678.2 220.8,675.9 C218.7,673.6 216.5,671.3 214.4,668.9 C212.3,666.5 210.2,664.1 208.2,661.7 C206.3,659.2 204.4,656.8 202.7,654.3 C200.9,651.8 199.3,649.3 197.9,646.7 C196.6,644.2 195.4,641.6 194.4,639.0 C193.5,636.4 192.8,633.7 192.4,631.1 C192.0,628.4 191.9,625.7 192.2,623.0 C192.5,620.3 193.1,617.5 194.1,614.8 C195.1,612.1 196.5,609.3 198.1,606.7 C199.6,604.0 201.6,601.4 203.7,599.0 C205.8,596.6 208.2,594.4 210.7,592.3 C213.1,590.3 215.8,588.5 218.6,587.0 C221.4,585.4 224.3,584.2 227.2,583.0 C230.1,581.9 233.2,581.0 236.2,580.2 C239.3,579.4 242.4,578.8 245.4,578.2 Z"/>
  <path id="pHole" d="M235.8,657.1 C235.8,655.6 236.1,654.1 236.5,652.6 C237.0,651.1 237.7,649.6 238.5,648.2 C239.4,646.8 240.4,645.4 241.6,644.1 C242.7,642.9 244.0,641.7 245.4,640.6 C246.8,639.5 248.3,638.6 249.9,637.8 C251.4,637.0 253.1,636.3 254.7,635.7 C256.3,635.1 258.0,634.6 259.6,634.1 C261.2,633.7 262.9,633.3 264.5,633.0 C266.2,632.7 267.8,632.5 269.5,632.3 C271.1,632.1 272.8,632.0 274.4,632.0 C276.1,632.0 277.8,632.0 279.4,632.1 C281.0,632.1 282.7,632.3 284.3,632.5 C286.0,632.7 287.6,633.0 289.2,633.3 C290.9,633.6 292.5,633.9 294.1,634.3 C295.7,634.8 297.3,635.2 298.9,635.7 C300.5,636.2 302.1,636.8 303.7,637.4 C305.3,638.0 306.8,638.6 308.4,639.3 C309.9,639.9 311.5,640.7 313.0,641.4 C314.5,642.2 316.0,643.0 317.5,643.8 C319.0,644.6 320.4,645.5 321.9,646.4 C323.3,647.3 324.7,648.3 326.1,649.2 C327.5,650.2 328.9,651.2 330.3,652.2 C331.6,653.2 332.9,654.3 334.2,655.4 C335.5,656.5 336.8,657.6 338.0,658.7 C339.3,659.8 340.5,661.0 341.6,662.2 C342.8,663.4 344.0,664.6 345.1,665.8 C346.2,667.0 347.3,668.2 348.3,669.5 C349.3,670.7 350.3,672.0 351.3,673.3 C352.3,674.6 353.2,675.9 354.1,677.2 C355.0,678.6 355.9,679.9 356.7,681.3 C357.6,682.7 358.4,684.2 359.3,685.6 C360.1,687.1 360.9,688.6 361.7,690.2 C362.5,691.8 363.3,693.4 364.1,695.0 C364.8,696.7 365.6,698.3 366.2,700.0 C366.8,701.7 367.4,703.5 367.8,705.2 C368.1,706.9 368.4,708.6 368.5,710.2 C368.6,711.9 368.5,713.6 368.2,715.2 C367.9,716.7 367.4,718.3 366.7,719.7 C366.1,721.1 365.2,722.4 364.2,723.5 C363.2,724.7 362.0,725.7 360.7,726.5 C359.3,727.2 357.8,727.8 356.2,728.2 C354.6,728.7 352.8,728.9 351.1,729.0 C349.4,729.2 347.7,729.2 346.0,729.1 C344.3,729.1 342.6,728.9 341.0,728.7 C339.3,728.4 337.7,728.1 336.0,727.7 C334.4,727.3 332.8,726.8 331.2,726.3 C329.5,725.8 327.9,725.2 326.4,724.5 C324.8,723.9 323.2,723.2 321.7,722.5 C320.1,721.8 318.5,721.0 317.0,720.3 C315.5,719.5 313.9,718.7 312.4,717.9 C310.9,717.1 309.4,716.3 307.9,715.5 C306.4,714.7 304.9,713.8 303.5,713.0 C302.0,712.2 300.5,711.4 299.1,710.7 C297.6,709.9 296.1,709.1 294.7,708.3 C293.3,707.5 291.8,706.7 290.4,705.9 C289.0,705.1 287.6,704.3 286.1,703.5 C284.7,702.7 283.3,701.9 281.9,701.1 C280.5,700.2 279.1,699.4 277.7,698.6 C276.3,697.7 274.9,696.9 273.6,696.0 C272.2,695.1 270.8,694.2 269.4,693.3 C268.1,692.4 266.7,691.4 265.3,690.5 C264.0,689.5 262.6,688.5 261.2,687.5 C259.9,686.5 258.5,685.4 257.1,684.4 C255.8,683.3 254.4,682.2 253.1,681.0 C251.7,679.9 250.3,678.7 249.0,677.5 C247.7,676.3 246.3,675.1 245.1,673.8 C243.8,672.5 242.6,671.2 241.5,669.9 C240.4,668.5 239.4,667.2 238.6,665.8 C237.7,664.4 237.0,662.9 236.6,661.5 C236.1,660.1 235.9,658.6 235.8,657.1 Z"/>
  <path id="pHeel" d="M223.7,739.0 C225.9,738.9 228.0,738.9 230.1,738.9 C232.1,739.0 234.2,739.2 236.2,739.5 C238.2,739.7 240.2,740.1 242.2,740.5 C244.2,740.9 246.1,741.4 248.0,742.0 C249.9,742.6 251.8,743.2 253.7,744.0 C255.5,744.7 257.4,745.5 259.2,746.3 C261.0,747.2 262.8,748.1 264.6,749.1 C266.4,750.1 268.1,751.1 269.9,752.2 C271.6,753.3 273.3,754.5 275.0,755.7 C276.7,756.9 278.4,758.1 280.1,759.4 C281.8,760.7 283.4,762.1 285.1,763.4 C286.7,764.8 288.3,766.2 290.0,767.7 C291.6,769.1 293.2,770.6 294.8,772.1 C296.3,773.6 297.9,775.1 299.4,776.7 C300.8,778.3 302.3,779.9 303.7,781.6 C305.0,783.2 306.4,784.9 307.6,786.6 C308.8,788.3 309.9,790.1 310.9,791.9 C312.0,793.7 312.9,795.6 313.7,797.4 C314.5,799.3 315.2,801.3 315.7,803.2 C316.2,805.2 316.6,807.2 316.9,809.3 C317.1,811.3 317.2,813.4 317.1,815.5 C317.0,817.5 316.8,819.6 316.4,821.6 C316.0,823.6 315.4,825.5 314.7,827.3 C314.0,829.1 313.1,830.8 312.0,832.3 C311.0,833.8 309.8,835.2 308.4,836.4 C307.0,837.5 305.4,838.5 303.8,839.2 C302.1,840.0 300.3,840.6 298.4,841.1 C296.5,841.5 294.5,841.8 292.5,842.0 C290.5,842.2 288.4,842.3 286.2,842.2 C284.1,842.2 282.0,842.1 279.8,841.9 C277.7,841.7 275.5,841.4 273.4,841.1 C271.3,840.8 269.3,840.4 267.2,840.0 C265.1,839.6 263.1,839.1 261.1,838.6 C259.1,838.0 257.1,837.4 255.1,836.8 C253.1,836.2 251.1,835.5 249.2,834.7 C247.3,834.0 245.4,833.2 243.5,832.4 C241.6,831.6 239.7,830.7 237.8,829.8 C236.0,828.8 234.1,827.9 232.3,826.9 C230.5,825.9 228.7,824.8 226.9,823.7 C225.1,822.6 223.4,821.5 221.6,820.3 C219.9,819.1 218.1,817.9 216.4,816.7 C214.7,815.4 213.0,814.1 211.3,812.8 C209.6,811.5 208.0,810.1 206.3,808.7 C204.7,807.3 203.0,805.9 201.4,804.5 C199.8,803.0 198.2,801.5 196.7,800.0 C195.2,798.5 193.7,796.9 192.3,795.3 C190.9,793.8 189.6,792.1 188.4,790.5 C187.3,788.8 186.2,787.1 185.3,785.4 C184.4,783.7 183.6,781.9 183.0,780.1 C182.4,778.3 182.0,776.4 181.8,774.6 C181.7,772.7 181.7,770.8 181.9,768.9 C182.1,767.0 182.6,765.0 183.2,763.2 C183.8,761.3 184.6,759.5 185.5,757.8 C186.5,756.1 187.7,754.4 189.0,752.9 C190.3,751.4 191.8,750.0 193.4,748.8 C195.0,747.5 196.8,746.4 198.6,745.4 C200.5,744.4 202.5,743.5 204.5,742.8 C206.5,742.0 208.6,741.4 210.8,740.9 C212.9,740.3 215.1,739.9 217.2,739.6 C219.4,739.3 221.6,739.1 223.7,739.0 Z"/>
  <path id="pFore" d="M491.7,926.5 C494.5,925.7 497.4,925.1 500.2,924.5 C503.0,924.0 505.9,923.5 508.7,923.2 C511.6,922.8 514.4,922.6 517.2,922.4 C520.1,922.3 523.0,922.2 525.8,922.2 C528.7,922.2 531.5,922.2 534.4,922.4 C537.2,922.5 540.1,922.6 543.0,922.8 C545.8,923.0 548.7,923.3 551.6,923.6 C554.4,923.8 557.3,924.1 560.1,924.4 C563.0,924.7 565.9,925.0 568.7,925.3 C571.6,925.7 574.4,926.0 577.3,926.3 C580.1,926.5 583.0,926.8 585.8,927.1 C588.6,927.3 591.5,927.5 594.3,927.7 C597.1,927.8 600.0,927.9 602.8,928.0 C605.6,928.0 608.4,928.0 611.2,927.9 C614.0,927.9 616.8,927.7 619.6,927.5 C622.4,927.2 625.2,926.9 628.0,926.4 C630.7,926.0 633.5,925.4 636.2,924.8 C639.0,924.1 641.7,923.3 644.5,922.4 C647.2,921.5 649.9,920.5 652.6,919.5 C655.3,918.4 658.0,917.3 660.8,916.2 C663.5,915.1 666.2,914.0 668.9,912.9 C671.6,911.9 674.4,910.8 677.1,909.9 C679.8,908.9 682.6,908.0 685.3,907.3 C688.1,906.5 690.9,905.9 693.7,905.5 C696.5,905.0 699.3,904.7 702.1,904.7 C705.0,904.6 707.8,904.7 710.7,905.0 C713.5,905.3 716.4,905.8 719.3,906.4 C722.1,907.0 724.9,907.8 727.7,908.7 C730.5,909.5 733.3,910.5 736.0,911.6 C738.7,912.6 741.4,913.8 744.0,915.0 C746.6,916.2 749.2,917.4 751.7,918.8 C754.2,920.1 756.7,921.5 759.1,922.9 C761.5,924.4 763.9,925.9 766.2,927.4 C768.6,928.9 770.9,930.5 773.2,932.2 C775.5,933.8 777.8,935.4 780.0,937.1 C782.3,938.8 784.5,940.6 786.7,942.3 C789.0,944.1 791.2,945.8 793.4,947.6 C795.6,949.4 797.8,951.2 800.0,953.1 C802.2,954.9 804.4,956.7 806.6,958.6 C808.8,960.4 811.0,962.3 813.2,964.2 C815.3,966.1 817.5,968.1 819.5,970.1 C821.6,972.1 823.6,974.1 825.5,976.2 C827.5,978.3 829.4,980.5 831.2,982.7 C832.9,985.0 834.6,987.2 836.2,989.6 C837.8,992.0 839.3,994.5 840.7,997.0 C842.0,999.6 843.3,1002.2 844.4,1004.9 C845.4,1007.7 846.4,1010.5 846.9,1013.3 C847.5,1016.1 847.8,1018.9 847.6,1021.5 C847.3,1024.1 846.6,1026.7 845.3,1029.0 C843.9,1031.3 841.7,1033.4 839.4,1035.1 C837.0,1036.9 834.0,1038.4 831.3,1039.5 C828.5,1040.7 825.6,1041.5 822.8,1042.1 C820.0,1042.6 817.1,1042.9 814.3,1043.0 C811.5,1043.2 808.6,1043.0 805.8,1042.8 C803.0,1042.6 800.2,1042.2 797.4,1041.7 C794.6,1041.3 791.9,1040.7 789.1,1040.1 C786.3,1039.5 783.6,1038.8 780.9,1038.0 C778.1,1037.3 775.4,1036.4 772.7,1035.5 C770.0,1034.7 767.3,1033.7 764.6,1032.8 C761.9,1031.8 759.2,1030.8 756.5,1029.8 C753.8,1028.8 751.1,1027.7 748.4,1026.7 C745.7,1025.6 743.1,1024.6 740.4,1023.5 C737.7,1022.5 735.0,1021.4 732.3,1020.4 C729.6,1019.4 726.9,1018.4 724.2,1017.5 C721.5,1016.5 718.8,1015.6 716.1,1014.7 C713.4,1013.9 710.7,1013.0 707.9,1012.3 C705.2,1011.6 702.5,1010.9 699.7,1010.3 C696.9,1009.7 694.2,1009.1 691.4,1008.7 C688.6,1008.3 685.8,1007.9 683.0,1007.7 C680.2,1007.5 677.3,1007.4 674.5,1007.4 C671.6,1007.4 668.7,1007.5 665.8,1007.6 C663.0,1007.7 660.1,1007.9 657.2,1008.2 C654.3,1008.4 651.4,1008.7 648.5,1009.0 C645.6,1009.2 642.7,1009.5 639.8,1009.8 C637.0,1010.0 634.1,1010.2 631.2,1010.4 C628.4,1010.6 625.5,1010.7 622.7,1010.7 C619.9,1010.7 617.1,1010.6 614.3,1010.5 C611.5,1010.3 608.7,1010.1 605.9,1009.8 C603.2,1009.5 600.4,1009.1 597.7,1008.7 C594.9,1008.3 592.1,1007.9 589.4,1007.5 C586.6,1007.0 583.8,1006.6 581.0,1006.1 C578.2,1005.7 575.3,1005.3 572.5,1004.8 C569.7,1004.4 566.8,1004.0 563.9,1003.6 C561.0,1003.2 558.2,1002.7 555.3,1002.3 C552.4,1001.8 549.5,1001.3 546.7,1000.8 C543.8,1000.2 541.0,999.7 538.2,999.0 C535.4,998.4 532.6,997.7 529.8,996.9 C527.1,996.1 524.4,995.2 521.7,994.3 C519.0,993.3 516.4,992.3 513.9,991.1 C511.3,990.0 508.8,988.7 506.4,987.3 C503.9,985.9 501.5,984.4 499.3,982.7 C497.0,981.1 494.7,979.3 492.6,977.3 C490.5,975.3 488.5,973.2 486.5,970.9 C484.6,968.6 482.7,966.0 481.0,963.4 C479.4,960.8 477.7,957.9 476.5,955.1 C475.3,952.4 474.2,949.4 473.8,946.8 C473.3,944.2 473.1,941.5 473.7,939.3 C474.2,937.1 475.4,935.1 477.0,933.4 C478.7,931.7 481.1,930.5 483.6,929.3 C486.0,928.1 489.0,927.3 491.7,926.5 Z"/>
  <clipPath id="cBaseTop"><use href="#pBaseTop"/></clipPath>
  <filter id="fGlow" filterUnits="userSpaceOnUse" x="0" y="0" width="1200" height="1200"><feGaussianBlur stdDeviation="30"/></filter>
  <clipPath id="cTop"><use href="#pTop"/></clipPath>
  <clipPath id="cShell"><use href="#pShell"/></clipPath>
  <clipPath id="cHole"><use href="#pHole"/></clipPath>
  <clipPath id="cHeel"><use href="#pHeel"/></clipPath>
  <clipPath id="cFore"><use href="#pFore"/></clipPath>
  <clipPath id="cArch"><ellipse cx="429.5" cy="815" rx="99" ry="71.5"/></clipPath>

  <linearGradient id="gBase" gradientUnits="userSpaceOnUse" x1="420" y1="330" x2="700" y2="700">
    <stop offset="0" stop-color="#6f6f6f"/>
    <stop offset="1" stop-color="#848484"/>
  </linearGradient>
  <linearGradient id="gShell" gradientUnits="userSpaceOnUse" x1="230" y1="705" x2="335" y2="640">
    <stop offset="0" stop-color="#dfdfdf"/>
    <stop offset="1" stop-color="#afafaf"/>
  </linearGradient>
  <linearGradient id="gHeel" gradientUnits="userSpaceOnUse" x1="200" y1="815" x2="300" y2="755">
    <stop offset="0" stop-color="#e57a50"/>
    <stop offset="1" stop-color="#c35e38"/>
  </linearGradient>
  <linearGradient id="gFore" gradientUnits="userSpaceOnUse" x1="0" y1="912" x2="0" y2="1035">
    <stop offset="0" stop-color="#c25f39"/>
    <stop offset="1" stop-color="#e57b51"/>
  </linearGradient>
  <linearGradient id="gArch" gradientUnits="userSpaceOnUse" x1="330" y1="0" x2="530" y2="0">
    <stop offset="0" stop-color="#e2e8e8"/>
    <stop offset="0.5" stop-color="#eff3f3"/>
    <stop offset="1" stop-color="#e4eaea"/>
  </linearGradient>
  <g id="mot"><path d="M0.7685,-1.6029 L16.2306,8.4861 L14.6935,11.6920 L-0.7685,1.6029Z M7.5334,7.7573 L11.0777,16.8299 L7.6166,17.2077 L4.0724,8.1352Z"/></g>
  <pattern id="knit" patternUnits="userSpaceOnUse" width="13" height="14" patternTransform="matrix(1,-0.0769,-0.2143,1,3,2)">
    <rect width="13" height="14" fill="#fcf1ef"/>
    <g fill="#e85a37"><use href="#mot" x="-26" y="-14"/><use href="#mot" x="-26" y="0"/><use href="#mot" x="-26" y="14"/><use href="#mot" x="-13" y="-14"/><use href="#mot" x="-13" y="0"/><use href="#mot" x="-13" y="14"/><use href="#mot" x="0" y="-14"/><use href="#mot" x="0" y="0"/><use href="#mot" x="0" y="14"/><use href="#mot" x="13" y="-14"/><use href="#mot" x="13" y="0"/><use href="#mot" x="13" y="14"/></g>
  </pattern>
  <pattern id="mesh" patternUnits="userSpaceOnUse" width="54" height="24" patternTransform="translate(3,2)">
    <rect width="54" height="24" fill="#e2351f"/>
    <g fill="#fbe3d8" stroke="#fbe3d8" stroke-width="1.3" stroke-linejoin="round"><path d="M-5,1.7 L5,1.7 L0,10.3z M-5,25.7 L5,25.7 L0,34.3z M49,1.7 L59,1.7 L54,10.3z M49,25.7 L59,25.7 L54,34.3z M36,1.7 L41,10.3 L31,10.3z M36,25.7 L41,34.3 L31,34.3z M9,-10.3 L14,-1.7 L4,-1.7z M9,13.7 L14,22.3 L4,22.3z M22,-10.3 L32,-10.3 L27,-1.7z M22,13.7 L32,13.7 L27,22.3z"/><ellipse cx="18" cy="6" rx="4.8" ry="3.6" transform="rotate(-20 18 6)"/><ellipse cx="18" cy="30" rx="4.8" ry="3.6" transform="rotate(-20 18 30)"/><ellipse cx="45" cy="-6" rx="4.8" ry="3.6" transform="rotate(-20 45 -6)"/><ellipse cx="45" cy="18" rx="4.8" ry="3.6" transform="rotate(-20 45 18)"/></g>
    <g fill="#5a2a24"><circle cx="0.5" cy="6.3" r="0.65"/><circle cx="0.5" cy="30.3" r="0.65"/><circle cx="54.5" cy="6.3" r="0.65"/><circle cx="54.5" cy="30.3" r="0.65"/><circle cx="18.5" cy="6.3" r="0.65"/><circle cx="18.5" cy="30.3" r="0.65"/><circle cx="36.5" cy="6.3" r="0.65"/><circle cx="36.5" cy="30.3" r="0.65"/><circle cx="9.5" cy="-5.7" r="0.65"/><circle cx="9.5" cy="18.3" r="0.65"/><circle cx="27.5" cy="-5.7" r="0.65"/><circle cx="27.5" cy="18.3" r="0.65"/><circle cx="45.5" cy="-5.7" r="0.65"/><circle cx="45.5" cy="18.3" r="0.65"/></g>
  </pattern>
</defs>

<!-- ===== SHELL ===== -->
<use href="#pShell" fill="#b8b8b8"/>
<g clip-path="url(#cShell)"><use href="#pShell" transform="translate(2.5,-4.5)" fill="url(#gShell)"/></g>
<use href="#pHole" fill="#b4b4b4"/>
<path d="M237.1,659.1 C237.1,657.7 237.4,656.2 237.9,654.8 C238.4,653.4 239.1,652.0 240.0,650.7 C240.9,649.3 242.0,648.0 243.2,646.8 C244.4,645.6 245.7,644.5 247.1,643.6 C248.5,642.6 249.9,641.8 251.4,641.1 C252.9,640.4 254.5,639.9 256.0,639.4 C257.6,639.0 259.2,638.7 260.8,638.4 C262.4,638.2 264.1,638.0 265.7,637.9 C267.3,637.8 269.0,637.7 270.6,637.7 C272.3,637.7 273.9,637.8 275.6,637.9 C277.2,638.0 278.9,638.2 280.5,638.4 C282.2,638.7 283.8,638.9 285.4,639.2 C287.1,639.6 288.7,639.9 290.3,640.3 C291.9,640.7 293.5,641.2 295.0,641.6 C296.6,642.1 298.2,642.6 299.7,643.2 C301.2,643.7 302.7,644.3 304.2,644.9 C305.7,645.6 307.1,646.2 308.6,646.9 C310.0,647.5 311.4,648.3 312.8,649.0 C314.2,649.7 315.5,650.5 316.9,651.3 C318.2,652.1 319.6,652.9 320.9,653.8 C322.2,654.6 323.5,655.5 324.8,656.4 C326.1,657.3 327.3,658.2 328.6,659.2 C329.8,660.2 331.1,661.2 332.3,662.2 C333.5,663.2 334.7,664.2 335.9,665.3 C337.1,666.4 338.3,667.5 339.5,668.6 C340.7,669.7 341.8,670.9 343.0,672.0 C344.2,673.2 345.3,674.4 346.5,675.6 C347.6,676.8 348.8,678.1 349.9,679.3 C351.1,680.6 352.2,681.9 353.3,683.2 C354.5,684.5 355.6,685.8 356.7,687.2 C357.8,688.5 358.8,689.9 359.8,691.3 C360.8,692.7 361.8,694.1 362.6,695.5 C363.5,696.9 364.3,698.4 365.0,699.8 C365.7,701.3 366.3,702.8 366.7,704.3 C367.2,705.8 367.5,707.3 367.7,708.8 C367.9,710.3 367.9,711.9 367.8,713.4 C367.7,714.9 367.4,716.5 366.9,717.9 C366.5,719.3 365.9,720.8 365.1,722.0 C364.3,723.2 363.4,724.4 362.2,725.3 C361.1,726.3 359.8,727.0 358.3,727.6 C356.9,728.2 355.3,728.6 353.6,728.8 C352.0,729.1 350.3,729.2 348.6,729.2 C347.0,729.3 345.3,729.2 343.7,729.1 C342.1,728.9 340.5,728.7 338.9,728.4 C337.3,728.1 335.7,727.7 334.1,727.3 C332.5,726.8 331.0,726.3 329.4,725.7 C327.9,725.2 326.3,724.6 324.8,723.9 C323.3,723.3 321.8,722.6 320.3,721.9 C318.8,721.2 317.3,720.4 315.8,719.7 C314.3,718.9 312.8,718.1 311.4,717.3 C309.9,716.5 308.5,715.7 307.0,715.0 C305.6,714.2 304.1,713.4 302.7,712.6 C301.3,711.8 299.9,711.1 298.5,710.3 C297.1,709.5 295.7,708.8 294.3,708.0 C292.9,707.3 291.5,706.5 290.1,705.7 C288.7,705.0 287.4,704.2 286.0,703.4 C284.6,702.6 283.3,701.8 281.9,701.0 C280.5,700.3 279.2,699.4 277.9,698.6 C276.5,697.8 275.2,697.0 273.8,696.1 C272.5,695.3 271.2,694.4 269.8,693.6 C268.5,692.7 267.2,691.8 265.8,690.8 C264.5,689.9 263.2,689.0 261.9,688.0 C260.6,687.0 259.2,686.1 257.9,685.0 C256.6,684.0 255.3,683.0 254.0,681.9 C252.7,680.8 251.3,679.7 250.0,678.5 C248.7,677.4 247.4,676.2 246.2,675.0 C244.9,673.8 243.7,672.5 242.6,671.3 C241.5,670.0 240.5,668.7 239.7,667.4 C238.9,666.0 238.2,664.7 237.7,663.3 C237.3,661.9 237.0,660.5 237.1,659.1 Z" fill="#ffffff"/>

<!-- ===== HEEL PAD ===== -->
<use href="#pHeel" fill="#c35830"/>
<g clip-path="url(#cHeel)"><use href="#pHeel" transform="translate(1.5,-4.5)" fill="url(#gHeel)"/></g>

<!-- ===== BASE ===== -->
<use href="#pBase" fill="#7a7a7a"/>
<g clip-path="url(#cBaseTop)">
  <use href="#pBaseTop" fill="url(#gBase)"/>
  <path d="M259.5,353.2 C260.0,356.0 261.3,364.5 262.6,369.9 C264.0,375.2 265.6,380.4 267.5,385.5 C269.4,390.5 271.5,395.4 273.9,400.1 C276.2,404.9 278.8,409.4 281.5,413.9 C284.2,418.4 287.2,422.7 290.3,427.0 C293.3,431.2 296.6,435.3 299.9,439.4 C303.3,443.4 306.8,447.4 310.3,451.2 C313.9,455.1 317.6,458.9 321.3,462.6 C325.0,466.4 328.8,470.0 332.6,473.7 C336.5,477.3 340.4,480.9 344.2,484.5 C348.1,488.1 352.1,491.6 356.0,495.2 C359.9,498.8 363.8,502.3 367.6,505.9 C371.5,509.5 375.4,513.1 379.2,516.8 C383.0,520.5 386.8,524.2 390.4,528.0 C394.1,531.8 397.7,535.6 401.3,539.5 C404.8,543.5 408.3,547.4 411.7,551.5 C415.1,555.5 418.5,559.6 421.8,563.8 C425.1,567.9 428.3,572.1 431.5,576.4 C434.8,580.6 437.9,584.9 441.1,589.2 C444.2,593.5 447.3,597.8 450.4,602.2 C453.4,606.6 456.5,611.0 459.5,615.4 C462.5,619.8 465.6,624.2 468.6,628.6 C471.6,633.0 474.6,637.5 477.6,641.9 C480.6,646.3 483.5,650.8 486.5,655.2 C489.6,659.6 492.6,664.1 495.6,668.5 C498.6,672.9 501.7,677.2 504.7,681.6 C507.8,686.0 510.9,690.3 514.0,694.6 C517.1,698.9 520.3,703.2 523.5,707.4 C526.7,711.6 530.0,715.8 533.3,720.0 C536.5,724.1 539.9,728.2 543.3,732.2 C546.7,736.2 550.2,740.2 553.7,744.1 C557.2,748.0 560.8,751.9 564.5,755.7 C568.1,759.4 571.8,763.2 575.6,766.8 C579.3,770.5 583.2,774.1 587.1,777.6 C590.9,781.2 594.9,784.7 598.9,788.1 C602.9,791.5 606.9,794.9 611.0,798.2 C615.1,801.5 619.3,804.7 623.5,807.9 C627.7,811.0 632.0,814.1 636.3,817.2 C640.7,820.2 645.0,823.2 649.5,826.1 C653.9,829.1 658.4,831.9 662.9,834.7 C667.4,837.5 672.0,840.2 676.6,842.9 C681.3,845.6 685.9,848.2 690.7,850.7 C695.4,853.3 700.2,855.7 705.0,858.2 C709.8,860.6 714.6,862.9 719.5,865.2 C724.4,867.5 729.4,869.7 734.3,871.8 C739.3,873.9 744.3,876.0 749.4,877.9 C754.4,879.8 759.5,881.7 764.6,883.5 C769.7,885.2 774.8,886.9 779.9,888.5 C785.1,890.0 790.2,891.5 795.4,892.8 C800.6,894.1 805.8,895.4 811.0,896.5 C816.2,897.6 821.4,898.6 826.6,899.4 C831.8,900.3 837.1,901.0 842.3,901.6 C847.5,902.2 852.7,902.7 858.0,903.0 C863.2,903.3 868.4,903.4 873.6,903.4 C878.8,903.3 883.9,903.1 889.0,902.6 C894.1,902.1 899.2,901.3 904.2,900.2 C909.1,899.2 914.0,897.8 918.8,896.1 C923.6,894.3 928.3,892.2 932.9,889.7 C937.5,887.1 944.0,882.3 946.2,880.8" fill="none" stroke="#8c8c8c" stroke-width="70" stroke-linecap="round" filter="url(#fGlow)"/>
</g>

<!-- ===== TOP COVER ===== -->
<use href="#pTop" fill="#dcd7df"/>
<g clip-path="url(#cTop)"><use href="#pTop" transform="translate(2,-2.8)" fill="url(#knit)"/></g>
<path d="M519,192 L560,189 L625,313 L602,324 Z" fill="#f4eeee"/>
<text transform="translate(527.5,194.5) rotate(59.6) skewX(-30.4)" font-family="Liberation Sans" font-weight="bold" font-size="31" fill="#e85a37" stroke="#e85a37" stroke-width="1.0" textLength="143" lengthAdjust="spacingAndGlyphs">ANODYNE</text>

<!-- ===== FOREFOOT PAD ===== -->
<use href="#pFore" fill="#c45830"/>
<g clip-path="url(#cFore)"><use href="#pFore" transform="translate(0.5,-4.5)" fill="url(#gFore)"/></g>

<!-- ===== MAGNIFIERS ===== -->
<ellipse cx="772" cy="390" rx="98.5" ry="71" fill="url(#mesh)" stroke="#231f20" stroke-width="3.2"/>
<ellipse cx="429.5" cy="815" rx="99" ry="71.5" fill="url(#gArch)"/>
<g clip-path="url(#cArch)" fill="none">
  <path d="M364.0,750.0 C363.9,752.9 364.4,760.2 363.3,767.2 C362.2,774.2 358.9,783.7 357.5,791.7 C356.1,799.7 355.2,807.2 355.2,815.0 C355.2,822.8 356.1,830.5 357.5,838.3 C358.9,846.1 361.6,855.1 363.3,861.7 C365.1,868.3 367.2,875.3 368.0,878.0 M394.0,745.0 C393.6,746.5 393.1,749.4 391.3,754.3 C389.5,759.2 385.3,767.0 383.2,774.2 C381.1,781.4 379.5,789.7 378.5,797.5 C377.5,805.3 376.9,813.0 377.3,820.8 C377.7,828.6 379.2,837.4 380.8,844.2 C382.4,851.0 384.8,855.9 386.7,861.7 C388.6,867.5 390.9,874.5 392.5,879.2 C394.1,883.9 395.4,888.2 396.0,890.0 M442.0,742.0 C441.5,743.1 440.6,745.1 439.2,748.5 C437.8,751.9 435.4,757.2 433.3,762.5 C431.2,767.8 428.6,774.2 426.3,780.0 C424.0,785.8 421.1,791.7 419.3,797.5 C417.6,803.3 416.2,809.2 415.8,815.0 C415.4,820.8 416.0,826.7 417.0,832.5 C418.0,838.3 419.9,844.2 421.7,850.0 C423.4,855.8 425.6,862.0 427.5,867.5 C429.4,873.0 431.9,878.6 433.3,882.7 C434.7,886.8 435.6,890.5 436.0,892.0 M478.0,748.0 C477.4,749.5 476.2,752.3 474.2,756.7 C472.2,761.1 468.9,768.4 466.0,774.2 C463.1,780.0 459.2,785.9 456.7,791.7 C454.2,797.5 451.8,803.4 450.8,809.2 C449.8,815.0 450.2,820.9 450.8,826.7 C451.4,832.5 452.6,838.4 454.3,844.2 C456.1,850.0 459.0,855.9 461.3,861.7 C463.6,867.5 466.7,875.2 468.3,879.2 C469.9,883.2 470.6,884.9 471.0,886.0" stroke="#fbfdfd" stroke-width="2.4" transform="translate(2,0)"/>
  <path d="M364.0,750.0 C363.9,752.9 364.4,760.2 363.3,767.2 C362.2,774.2 358.9,783.7 357.5,791.7 C356.1,799.7 355.2,807.2 355.2,815.0 C355.2,822.8 356.1,830.5 357.5,838.3 C358.9,846.1 361.6,855.1 363.3,861.7 C365.1,868.3 367.2,875.3 368.0,878.0 M394.0,745.0 C393.6,746.5 393.1,749.4 391.3,754.3 C389.5,759.2 385.3,767.0 383.2,774.2 C381.1,781.4 379.5,789.7 378.5,797.5 C377.5,805.3 376.9,813.0 377.3,820.8 C377.7,828.6 379.2,837.4 380.8,844.2 C382.4,851.0 384.8,855.9 386.7,861.7 C388.6,867.5 390.9,874.5 392.5,879.2 C394.1,883.9 395.4,888.2 396.0,890.0 M442.0,742.0 C441.5,743.1 440.6,745.1 439.2,748.5 C437.8,751.9 435.4,757.2 433.3,762.5 C431.2,767.8 428.6,774.2 426.3,780.0 C424.0,785.8 421.1,791.7 419.3,797.5 C417.6,803.3 416.2,809.2 415.8,815.0 C415.4,820.8 416.0,826.7 417.0,832.5 C418.0,838.3 419.9,844.2 421.7,850.0 C423.4,855.8 425.6,862.0 427.5,867.5 C429.4,873.0 431.9,878.6 433.3,882.7 C434.7,886.8 435.6,890.5 436.0,892.0 M478.0,748.0 C477.4,749.5 476.2,752.3 474.2,756.7 C472.2,761.1 468.9,768.4 466.0,774.2 C463.1,780.0 459.2,785.9 456.7,791.7 C454.2,797.5 451.8,803.4 450.8,809.2 C449.8,815.0 450.2,820.9 450.8,826.7 C451.4,832.5 452.6,838.4 454.3,844.2 C456.1,850.0 459.0,855.9 461.3,861.7 C463.6,867.5 466.7,875.2 468.3,879.2 C469.9,883.2 470.6,884.9 471.0,886.0" stroke="#c9d5d5" stroke-width="2.2"/>
</g>
<ellipse cx="429.5" cy="815" rx="99" ry="71.5" fill="none" stroke="#231f20" stroke-width="3.2"/>

<!-- ===== CALLOUT MARKERS ===== -->
<g fill="#fff" stroke="#231f20" stroke-width="2.8" stroke-linejoin="miter">
  <path d="M319,289 L319,262 L336.5,255.5 L354,262 L354,289 Z"/>
  <path d="M206.5,563 L206.5,537 L224,530.5 L241.5,537 L241.5,563 Z"/>
  <path d="M232.5,872.5 L266,872.5 L266,897.5 L249.5,904 L232.5,897.5 Z"/>
  <path d="M412.5,979.5 L446.5,979.5 L446.5,1005 L429.5,1011.5 L412.5,1005 Z"/>
  <path d="M913.5,374 L939,374 L944.5,390 L939,406 L913.5,406 Z"/>
  <path d="M868.5,975.5 L894.5,975.5 L900.5,992 L894.5,1009 L868.5,1009 Z"/>
</g>
<g stroke="#231f20" fill="none">
  <path d="M318,289.5 L355,289.5" stroke-width="3.5"/>
  <path d="M205,563.5 L243,563.5" stroke-width="3.5"/>
  <path d="M231,873 L267.5,873" stroke-width="3.5"/>
  <path d="M411,980 L448,980" stroke-width="3.5"/>
  <path d="M868,973 L868,1010.5" stroke-width="3.5"/>
  <path d="M912.5,372.5 L912.5,407.5" stroke-width="3.6"/>
  <path d="M336.6,291 L336.6,354.5 M318,354.5 L355.5,354.5" stroke-width="2.8"/>
  <path d="M223.8,565 L223.8,609.3 M205,609.3 L243,609.3" stroke-width="2.8"/>
  <path d="M249.5,790 L249.5,871 M231,790.2 L268,790.2" stroke-width="2.8"/>
  <path d="M429.7,887 L429.7,978" stroke-width="2.8"/>
  <path d="M872,390 L912,390" stroke-width="2.8"/>
  <path d="M783.7,992.2 L866.5,992.2 M783.7,973.5 L783.7,1010.8" stroke-width="2.8"/>
</g>

<!-- ===== LABELS ===== -->
<g class="lb">
  <text x="185.75" y="170.8" textLength="150" lengthAdjust="spacingAndGlyphs">CUSHIONED</text>
  <text x="269" y="212.2" textLength="67.5" lengthAdjust="spacingAndGlyphs">BASE</text>
  <text x="57.9" y="445.6" textLength="166.3" lengthAdjust="spacingAndGlyphs">SUPPORTIVE</text>
  <text x="144.2" y="486.8" textLength="80" lengthAdjust="spacingAndGlyphs">SHELL</text>
  <text x="995" y="417" textLength="144.5" lengthAdjust="spacingAndGlyphs">TOP COVER</text>
  <text x="188.1" y="976.9" textLength="61.9" lengthAdjust="spacingAndGlyphs">HEEL</text>
  <text x="134" y="1016.9" textLength="115.4" lengthAdjust="spacingAndGlyphs">PADDING</text>
  <text x="429.75" y="1086.75" textLength="159" lengthAdjust="spacingAndGlyphs">CONTOURED</text>
  <text x="429.75" y="1126.5" textLength="70.5" lengthAdjust="spacingAndGlyphs">ARCH</text>
  <text x="946.7" y="1018.2" textLength="133.5" lengthAdjust="spacingAndGlyphs">FOREFOOT</text>
  <text x="946.7" y="1057.9" textLength="115.7" lengthAdjust="spacingAndGlyphs">PADDING</text>
</g>
</svg>
</body></html>
